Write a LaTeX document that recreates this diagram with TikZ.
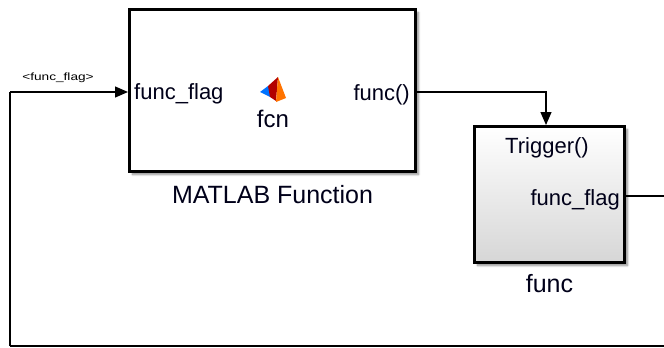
\documentclass[tikz,border=0pt]{standalone}
\usepackage{fontspec}
\setmainfont{Liberation Sans}
\usetikzlibrary{arrows.meta,shadows.blur}
\begin{document}
\begin{tikzpicture}[x=1pt,y=-1pt,
  blk/.style={draw=black,line width=3pt,inner sep=0pt,outer sep=0pt,
    blur shadow={shadow xshift=3pt,shadow yshift=-3pt,shadow blur steps=6,shadow opacity=45}},
  sig/.style={line width=1.2pt,-{Triangle[length=13pt,width=11pt]},shorten >=1.5pt},
  wire/.style={line width=1.2pt},
  port/.style={font=\fontsize{22}{22}\selectfont,inner sep=0pt,text=black!90!blue},
  lbl/.style={font=\fontsize{25}{25}\selectfont,inner sep=0pt,text=black!90!blue}]
\useasboundingbox (0,0) rectangle (664,348);
% blocks
\node[blk,fill=white,minimum width=286pt,minimum height=162pt] (ml) at (272.5,90.5) {};
\node[blk,top color=white,bottom color=black!16,minimum width=150pt,minimum height=136pt] (fb) at (549.5,194.5) {};
% texts
\node[port,anchor=base west] (inport) at (134,99) {func\_flag};
\node[port,anchor=base east] (outport) at (410,100) {func()};
\node[font=\fontsize{24}{24}\selectfont,inner sep=0pt,anchor=base,text=black!90!blue] (fcn) at (273,127) {fcn};
\node[lbl,anchor=base] (mllbl) at (272.5,203) {MATLAB Function};
\node[port,anchor=base] (trig) at (547,153) {Trigger()};
\node[port,anchor=base east] (fout) at (620,205) {func\_flag};
\node[lbl,anchor=base] (flbl) at (549.5,292) {func};
\node[inner sep=0pt,anchor=base] (siglbl) at (58,80) {\scalebox{1.3}[1]{\fontsize{10.5}{10.5}\selectfont <func\_flag>}};
% MATLAB logo
\coordinate (logo) at (273,90);
\fill[blue!55!cyan] (260,92) -- (268,86) -- (274,89) -- (270,97) -- cycle;
\fill[red!70!black] (268,86) -- (278,77) -- (276,101) -- (270,97) -- cycle;
\fill[orange!90!red] (278,77) -- (286,98) -- (276,102) -- cycle;
% connectors
\coordinate (ltop) at (10,92);
\coordinate (lbot) at (10,346);
\coordinate (rbot) at (664,346);
\coordinate (rend) at (664,196);
\coordinate (bend) at (546,92);
\draw[sig] (ltop) -- (ml.west |- ltop);
\draw[wire] (lbot) -- (ltop);
\draw[wire] (lbot) -- (rbot);
\draw[sig] (ml.east |- bend) -- (bend) -- (bend |- fb.north);
\draw[wire] (fb.east |- rend) -- (rend);
\end{tikzpicture}
\end{document}
